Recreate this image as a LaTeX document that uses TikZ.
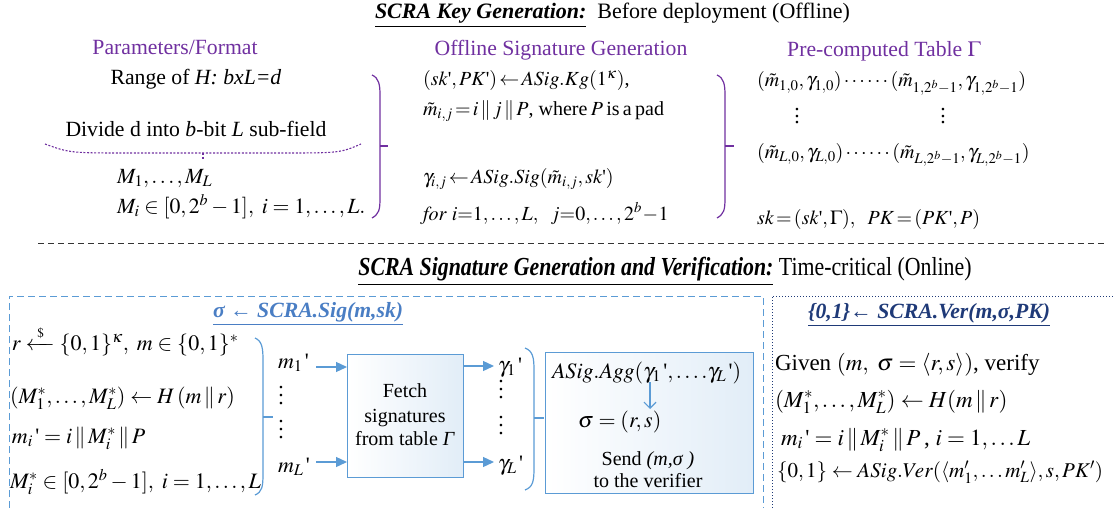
\documentclass[tikz,border=0pt]{standalone}
\usepackage{amsmath}
\usepackage{mathptmx}
\usepackage{fontspec}
\setmainfont{Liberation Serif}
\newfontfamily\narrowserif[FakeStretch=0.84]{Liberation Serif}
\usetikzlibrary{arrows.meta}
\definecolor{purp}{HTML}{7030A0}
\definecolor{lblue}{HTML}{5B9BD5}
\definecolor{tblue}{HTML}{4A7EC4}
\definecolor{navy}{HTML}{1F3A78}
\newcommand\fs{\fontsize{21.7}{26}\selectfont}
\newcommand\fm{\fontsize{20}{24}\selectfont}
\newcommand\fsb{\fontsize{22}{26}\selectfont}
\newcommand\fsv{\fontsize{23}{27}\selectfont}
\newcommand\q{\text{\textquotesingle}}
% three stacked dots, gap given as argument
\newcommand\vdts[1]{\vbox{\baselineskip=#1\lineskiplimit=-30pt\lineskip=0pt\hbox{.}\hbox{.}\hbox{.}}}
\newcommand\lar{\mathrel{\mkern-2mu\leftarrow\mkern-2mu}}
\tikzset{
  txt/.style={inner sep=0pt, outer sep=0pt, anchor=base west, font=\fs},
  ctxt/.style={txt, anchor=base},
  head/.style={ctxt, text=purp},
  pbrace/.style={draw=purp, line width=1.2pt},
  bbrace/.style={draw=lblue, line width=1.2pt},
  barrow/.style={draw=lblue, line width=1.3pt, -{Triangle[length=11pt,width=10pt]}},
  shadedbox/.style={draw=lblue, line width=1.2pt, inner sep=0pt,
    left color=white, right color=lblue!18, anchor=north west}
}
\begin{document}
\begin{tikzpicture}[x=1pt,y=-1pt]
\useasboundingbox (0,0) rectangle (1114,508);

% ---------------- key generation (offline) ----------------
\node[txt, font=\fontsize{22}{26}\selectfont] (kgtitle) at (375,19) {\textbf{\textit{\underline{SCRA Key Generation:}}}\ \ Before deployment (Offline)};

\node[head] (hparam) at (175,55) {Parameters/Format};
\node[ctxt] (range) at (196,85) {Range of \textit{H: bxL=d}};
\node[ctxt] (divide) at (196,137) {Divide d into \textit{b}-bit \textit{L} sub-field};
\coordinate (dl) at (45,144);
\coordinate (dr) at (361,144);
\coordinate (dm) at (203,153);
\coordinate (dt) at (203,160);
\draw[purp, line width=1.1pt, dash pattern=on 2pt off 1.6pt] (dl) .. controls (70,153) .. (130,153) -- (280,153) .. controls (340,153) .. (dr);
\draw[purp, line width=1.1pt, dash pattern=on 2pt off 1.6pt] (dm) -- (dt);
\node[txt] (mlist) at (117,183) {$M_1,\ldots,M_L$};
\node[txt] (mrange) at (117,213) {$M_i\in[0,2^b-1],\ i=1,\ldots,L.$};

\coordinate (b1t) at (372,75);
\coordinate (b1b) at (372,218);
\coordinate (b1m) at (380,146);
\coordinate (b1k) at (388,146);
\draw[pbrace] (b1t) .. controls (379,78) and (380,85) .. (380,95) -- (380,198) .. controls (380,210) and (379,214) .. (b1b);
\draw[pbrace] (b1m) -- (b1k);

\node[head] (hoff) at (561,56) {Offline Signature Generation};
\node[txt, font=\fm] (kg) at (423,86) {$(sk\q,PK\q)\lar ASig.Kg(1^\kappa)$,};
\node[txt, font=\fm] (mt) at (423,116) {$\tilde m_{i,j}\mkern-2mu=\mkern-2mu i\,\|\,j\,\|\,P$, where\,$P$\,is\,a\,pad};
\node[txt, font=\fm] (gam) at (423,183) {$\gamma_{i,j}\lar ASig.Sig(\tilde m_{i,j},sk\q)$};
\node[txt, font=\fm] (forij) at (423,220) {$\mathit{for}\ i{=}1,\ldots,L,\ \ j{=}0,\ldots,2^b\mkern-2mu-\mkern-2mu1$};

\coordinate (b2t) at (717,75);
\coordinate (b2b) at (717,218);
\coordinate (b2m) at (725,146);
\coordinate (b2k) at (734,146);
\draw[pbrace] (b2t) .. controls (724,78) and (725,85) .. (725,95) -- (725,198) .. controls (725,210) and (724,214) .. (b2b);
\draw[pbrace] (b2m) -- (b2k);

\node[head] (htab) at (884,57) {Pre-computed Table $\Gamma$};
\node[txt, font=\fm] (row1) at (757,87) {$(\tilde m_{1,0},\gamma_{1,0})\cdots\cdots(\tilde m_{1,2^b-1},\gamma_{1,2^b-1})$};
\node[ctxt] (vd1) at (797,124) {\vdts{6.5pt}};
\node[ctxt] (vd2) at (943,124) {\vdts{6.5pt}};
\node[txt, font=\fm] (rowL) at (757,158) {$(\tilde m_{L,0},\gamma_{L,0})\cdots\cdots(\tilde m_{L,2^b-1},\gamma_{L,2^b-1})$};
\node[txt, font=\fm] (skpk) at (757,224) {$sk\mkern-2mu=\mkern-2mu(sk\q,\Gamma),\ \ PK\mkern-2mu=\mkern-2mu(PK\q,P)$};

% separator
\coordinate (sepl) at (38,243);
\coordinate (sepr) at (1105,243);
\draw[black!80, line width=0.8pt, dash pattern=on 6pt off 4pt] (sepl) -- (sepr);

% ---------------- signature generation and verification (online) ----------------
\node[ctxt, font=\fontsize{26}{30}\selectfont] (ontitle) at (665,275) {\narrowserif\textbf{\textit{\underline{SCRA Signature Generation and Verification:}}} Time-critical (Online)};

% signer frame
\coordinate (sf1) at (9,508);
\coordinate (sf2) at (9,296);
\coordinate (sf3) at (763,296);
\coordinate (sf4) at (763,508);
\draw[lblue, line width=1pt, dash pattern=on 7pt off 4pt] (sf1) -- (sf2) -- (sf3) -- (sf4);
% verifier frame
\coordinate (vf1) at (772,508);
\coordinate (vf2) at (772,296);
\coordinate (vf3) at (1114,296);
\draw[navy, line width=1pt, dotted] (vf1) -- (vf2) -- (vf3);

\node[txt, text=tblue] (sigtitle) at (213,317) {\textbf{\textit{\underline{σ ← SCRA.Sig(m,sk)}}}};

\node[txt, font=\fsb] (rline) at (12,350) {$r\xleftarrow{\;\scriptscriptstyle\$\;\;}\{0,1\}^\kappa,\ m\in\{0,1\}^*$};
\node[txt, font=\fsb] (hline) at (10,403) {$(M_1^*,\ldots,M_L^*)\leftarrow H\,(m\,\|\,r)$};
\node[txt, font=\fsb] (miline) at (12,443) {$m_i\,\q=i\,\|\,M_i^*\,\|\,P$};
\node[txt, font=\fsb] (msline) at (10,488) {$M_i^*\in[0,2^b-1],\ i=1,\ldots,L$};

\coordinate (b3t) at (255,338);
\coordinate (b3b) at (255,495);
\coordinate (b3m) at (263,417);
\coordinate (b3k) at (273,417);
\draw[bbrace] (b3t) .. controls (262,341) and (263,348) .. (263,360) -- (263,474) .. controls (263,487) and (262,492) .. (b3b);
\draw[bbrace] (b3m) -- (b3k);

\node[txt, font=\fsb] (m1) at (278,368) {$m_1\,\q$};
\node[ctxt] (vd3) at (281,404) {\vdts{8pt}};
\node[ctxt] (vd4) at (281,438) {\vdts{8pt}};
\node[txt, font=\fsb] (mL) at (278,472) {$m_L\,\q$};

\node[shadedbox, minimum width=116pt, minimum height=123pt] (fetch) at (347,354) {};
\node[ctxt, font=\fm] (f1) at (405,397) {Fetch};
\node[ctxt, font=\fm] (f2) at (405,422) {signatures};
\node[ctxt, font=\fm] (f3) at (405,445) {from table \textit{Γ}};

\coordinate (a1s) at (316,367);
\coordinate (a2s) at (316,462);
\draw[barrow] (a1s) -- (a1s -| fetch.west);
\draw[barrow] (a2s) -- (a2s -| fetch.west);

\node[txt, font=\fsb] (g1) at (498,372) {$\gamma_1\,\q$};
\node[ctxt] (vd5) at (501,398) {\vdts{8pt}};
\node[ctxt] (vd6) at (501,434) {\vdts{8pt}};
\node[txt, font=\fsb] (gL) at (498,470) {$\gamma_L\,\q$};
\coordinate (a3e) at (494,366);
\coordinate (a4e) at (494,462);
\draw[barrow] (a3e -| fetch.east) -- (a3e);
\draw[barrow] (a4e -| fetch.east) -- (a4e);

\coordinate (b4t) at (525,348);
\coordinate (b4b) at (525,490);
\coordinate (b4m) at (534,418);
\coordinate (b4k) at (544,418);
\draw[bbrace] (b4t) .. controls (533,351) and (534,358) .. (534,370) -- (534,468) .. controls (534,481) and (533,487) .. (b4b);
\draw[bbrace] (b4m) -- (b4k);

\node[shadedbox, minimum width=208pt, minimum height=141pt] (agg) at (545,352) {};
\node[txt, font=\fsb] (aggf) at (552,378) {$ASig.Agg(\gamma_1\,\q,\ldots.\gamma_L\,\q)$};
\node[txt, font=\fsb] (sig) at (578,427) {$\sigma=(r,s)$};
\coordinate (aas) at (650,382);
\coordinate (aae) at (650,409);
\draw[lblue, line width=1.2pt, -{Straight Barb[length=6pt,width=12pt]}] (aas) -- (aae);
\node[ctxt, font=\fm] (send) at (648,465) {Send \textit{(m,σ )}};
\node[ctxt, font=\fm] (tover) at (648,487) {to the verifier};

% verifier
\node[txt, text=navy] (vertitle) at (808,318) {\textbf{\textit{\underline{\{0,1\}← SCRA.Ver(m,σ,PK)}}}};
\node[txt, font=\fsv] (given) at (775,370) {Given $(m,\ \sigma=\langle r,s\rangle)$, verify};
\node[txt, font=\fsv] (vh) at (775,407) {$(M_1^*,\ldots,M_L^*)\leftarrow H(m\,\|\,r)$};
\node[txt, font=\fsv] (vm) at (781,445) {$m_i\,\q=i\,\|\,M_i^*\,\|\,P$\,, $i=1,\ldots L$};
\node[txt, font=\fontsize{21}{25}\selectfont] (vv) at (777,477) {$\{0,1\}\leftarrow ASig.Ver(\langle m_1',\ldots m_L'\rangle,s,PK')$};
\end{tikzpicture}
\end{document}
